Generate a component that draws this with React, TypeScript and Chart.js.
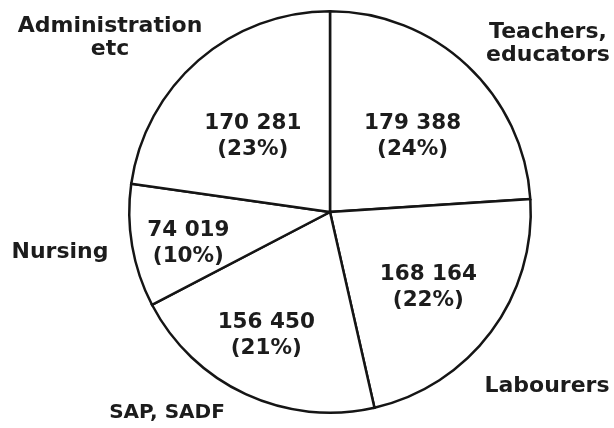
import React, { useEffect, useRef } from "react";
import { Chart, registerables } from "chart.js";

Chart.register(...registerables);

const categories = ["Teachers, educators", "Labourers", "SAP, SADF", "Nursing", "Administration etc"];
const values = [179388, 168164, 156450, 74019, 170281];
const valueLabels = ["179 388", "168 164", "156 450", "74 019", "170 281"];
const percentLabels = ["(24%)", "(22%)", "(21%)", "(10%)", "(23%)"];
const outerLabels = [["Teachers,", "educators"], ["Labourers"], ["SAP, SADF"], ["Nursing"], ["Administration", "etc"]];

// label placement (style): radius fraction, angle offset (deg)
const innerPlace = [
  [0.565, 3.6],
  [0.61, -0.2],
  [0.68, 3.0],
  [0.72, -1.8],
  [0.545, -3.9],
];
// outer label placement relative to pie center, in px (style)
const outerPlace = [
  { x: 218, y: -174, size: 22 },
  { x: 217, y: 180, size: 22 },
  { x: -163, y: 206, size: 20 },
  { x: -270, y: 46, size: 22 },
  { x: -220, y: -180, size: 22 },
];

const FONT = '"DejaVu Sans", sans-serif';
const INK = "#1c1c1c";

const labelPlugin = {
  id: "pieLabels",
  afterDatasetsDraw(chart: any) {
    const ctx = chart.ctx;
    const meta = chart.getDatasetMeta(0);
    ctx.save();
    ctx.fillStyle = INK;
    ctx.textAlign = "center";
    ctx.textBaseline = "alphabetic";
    meta.data.forEach((arc: any, i: number) => {
      const p = arc.getProps(["x", "y", "startAngle", "endAngle", "outerRadius"], true);
      const [rf, da] = innerPlace[i];
      const mid = (p.startAngle + p.endAngle) / 2 + (da * Math.PI) / 180;
      const cx = p.x + Math.cos(mid) * p.outerRadius * rf;
      const cy = p.y + Math.sin(mid) * p.outerRadius * rf;
      ctx.font = `bold 21.5px ${FONT}`;
      ctx.fillText(valueLabels[i], cx, cy - 5);
      ctx.fillText(percentLabels[i], cx, cy + 21);

      const o = outerPlace[i];
      ctx.font = `bold ${o.size}px ${FONT}`;
      const lines = outerLabels[i];
      lines.forEach((ln, k) => {
        ctx.fillText(ln, p.x + o.x, p.y + o.y + k * 23);
      });
    });
    ctx.restore();
  },
};

export default function App() {
  const ref = useRef<HTMLCanvasElement>(null);
  useEffect(() => {
    if (!ref.current) return;
    const chart = new Chart(ref.current, {
      type: "pie",
      data: {
        labels: categories,
        datasets: [
          {
            data: values,
            backgroundColor: "#ffffff",
            borderColor: "#151515",
            borderWidth: 2.5,
            borderJoinStyle: "miter",
          } as any,
        ],
      },
      options: {
        responsive: false,
        animation: false,
        layout: { padding: { left: 128, right: 82, top: 10, bottom: 14 } },
        plugins: {
          legend: { display: false },
          tooltip: { enabled: false },
        },
      },
      plugins: [labelPlugin],
    });
    return () => chart.destroy();
  }, []);
  return (
    <div style={{ position: "fixed", left: 0, top: 0, width: 614, height: 428, background: "#fff" }}>
      <canvas ref={ref} width={614} height={428} />
    </div>
  );
}
